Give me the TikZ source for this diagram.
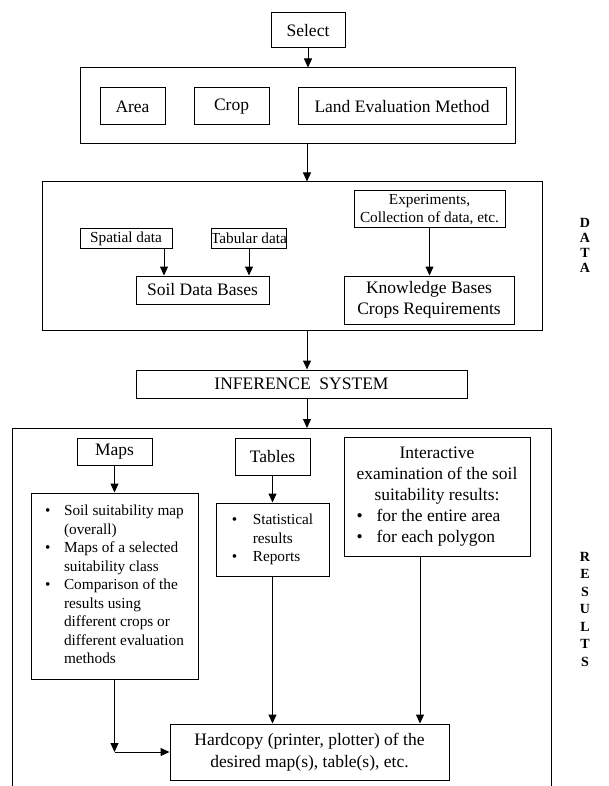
\documentclass[tikz,border=0pt]{standalone}
\usepackage{fontspec}
\setmainfont{Liberation Serif}
\usetikzlibrary{arrows.meta}
\newcommand{\bigsz}{\fontsize{17.5}{21}\selectfont}
\newcommand{\smsz}{\fontsize{15.3}{18.5}\selectfont}
\begin{document}
\begin{tikzpicture}[x=1pt,y=-1pt,
  bx/.style={draw, line width=1pt, inner sep=0pt, align=center, font=\bigsz},
  sbx/.style={bx, font=\smsz},
  arr/.style={line width=1pt, -{Triangle[length=9pt,width=8pt]}},
  ln/.style={line width=1pt},
  lbl/.style={inner sep=0pt, align=center}]
\useasboundingbox (0,0) rectangle (608,786);
\fill[white] (0,0) rectangle (608,786);

% top part
\node[bx, minimum width=74, minimum height=35] (select) at (308,30.5) {Select};
\node[bx, minimum width=435, minimum height=76] (selframe) at (297.5,106) {};
\node[bx, minimum width=65, minimum height=37] (area) at (132.5,106.5) {Area};
\node[bx, minimum width=75, minimum height=37] (crop) at (231.5,106.5) {Crop};
\node[bx, minimum width=208, minimum height=37] (lem) at (402,106.5) {Land Evaluation Method};

% data part
\node[bx, minimum width=500, minimum height=148] (dataframe) at (292,256) {};
\node[sbx, minimum width=151, minimum height=37] (exper) at (429.5,209.5) {Experiments,\\Collection of data, etc.};
\node[sbx, minimum width=92, minimum height=19] (spatial) at (126,238.5) {Spatial data};
\node[sbx, minimum width=74, minimum height=19] (tabular) at (249,238.5) {Tabular data};
\node[bx, minimum width=133, minimum height=28] (sdb) at (202.5,290) {Soil Data Bases};
\node[bx, minimum width=170, minimum height=48] (kb) at (429,300) {Knowledge Bases\\Crops Requirements};

\node[bx, minimum width=331, minimum height=28] (inf) at (301.5,384) {INFERENCE\ \ SYSTEM};

% results frame (open at the bottom)
\coordinate (rtop) at (307,428);
\draw[ln] (12,786) -- (12,428) -- (551,428) -- (551,786);

\node[bx, minimum width=75, minimum height=27] (maps) at (114.5,451.5) {Maps};
\node[bx, minimum width=75, minimum height=37] (tables) at (272.5,456.5) {Tables};
\node[bx, minimum width=186, minimum height=119] (inter) at (437,496.5) {%
\begin{tabular}{@{}p{20pt}@{}l@{}}
\multicolumn{2}{@{}c@{}}{Interactive}\\
\multicolumn{2}{@{}c@{}}{examination of the soil}\\
\multicolumn{2}{@{}c@{}}{suitability results:}\\
\textbullet & for the entire area\\
\textbullet & for each polygon
\end{tabular}};
\node[sbx, minimum width=167, minimum height=186] (mapslist) at (114.5,586) {%
\begin{tabular}{@{}p{19pt}@{}l@{}}
\textbullet & Soil suitability map\\
 & (overall)\\
\textbullet & Maps of a selected\\
 & suitability class\\
\textbullet & Comparison of the\\
 & results using\\
 & different crops or\\
 & different evaluation\\
 & methods
\end{tabular}};
\node[sbx, minimum width=113, minimum height=73] (tablist) at (272.5,539.5) {%
\begin{tabular}{@{}p{21pt}@{}l@{}}
\textbullet & Statistical\\
 & results\\
\textbullet & Reports
\end{tabular}};
\node[bx, minimum width=279, minimum height=56, font=\fontsize{17.5}{22}\selectfont] (hard) at (309.5,752) {Hardcopy (printer, plotter) of the\\desired map(s), table(s), etc.};

% side labels
\node[lbl, font=\fontsize{14}{15}\selectfont\bfseries] (datalbl) at (585,245) {D\\A\\T\\A};
\node[lbl, font=\fontsize{14}{17.5}\selectfont\bfseries] (reslbl) at (585,609) {R\\E\\S\\U\\L\\T\\S};

% connectors
\coordinate (cx) at (307,0);
\coordinate (sx) at (164,0);
\coordinate (ix) at (420,0);
\draw[arr] (select.south) -- (select.south |- selframe.north);
\draw[arr] (selframe.south -| cx) -- (dataframe.north -| cx);
\draw[arr] (spatial.south -| sx) -- (sdb.north -| sx);
\draw[arr] (tabular.south) -- (tabular.south |- sdb.north);
\draw[arr] (exper.south) -- (exper.south |- kb.north);
\draw[arr] (dataframe.south -| cx) -- (inf.north -| cx);
\draw[arr] (inf.south -| cx) -- (rtop);
\draw[arr] (maps.south) -- (mapslist.north);
\draw[arr] (tables.south) -- (tablist.north);
\draw[arr] (tablist.south) -- (tablist.south |- hard.north);
\draw[arr] (inter.south -| ix) -- (hard.north -| ix);
\coordinate (corner) at (mapslist.south |- hard.west);
\draw[arr] (mapslist.south) -- (corner);
\draw[arr] (corner) -- (hard.west);
\end{tikzpicture}
\end{document}
